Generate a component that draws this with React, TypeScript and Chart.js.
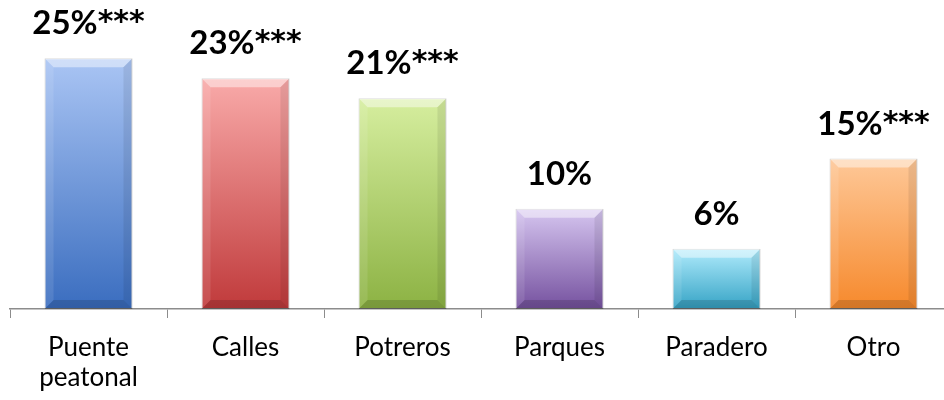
import { useEffect, useRef } from 'react';
import { Chart, registerables } from 'chart.js';

Chart.register(...registerables);

const categories: (string | string[])[] = [['Puente', 'peatonal'], 'Calles', 'Potreros', 'Parques', 'Paradero', 'Otro'];
const values = [25, 23, 21, 10, 6, 15];
const significance = ['***', '***', '***', '', '', '***'];
const topColors = ['#aac5f4', '#f9aaa9', '#d6ee9f', '#d6c6f0', '#b0ebfc', '#fec898'];
const bottomColors = ['#3a6dbf', '#c03a3b', '#8cb243', '#75519f', '#35a3c5', '#f6892c'];
const yMax = 30;

const FONT = 'Lato, "Open Sans", sans-serif';

const bevelPlugin = {
  id: 'bevel',
  afterDatasetsDraw(chart: any) {
    const ctx = chart.ctx;
    const meta = chart.getDatasetMeta(0);
    meta.data.forEach((bar: any) => {
      const w = bar.width;
      const l = bar.x - w / 2;
      const r = bar.x + w / 2;
      const t = bar.y;
      const b = bar.base;
      const bv = Math.min(9, (b - t) / 3);
      ctx.save();
      const poly = (pts: number[][], fill: string) => {
        ctx.beginPath();
        ctx.moveTo(pts[0][0], pts[0][1]);
        for (let k = 1; k < pts.length; k++) ctx.lineTo(pts[k][0], pts[k][1]);
        ctx.closePath();
        ctx.fillStyle = fill;
        ctx.fill();
      };
      poly([[l, t], [r, t], [r - bv, t + bv], [l + bv, t + bv]], 'rgba(255,255,255,0.45)');
      poly([[l, t], [l + bv, t + bv], [l + bv, b - bv], [l, b]], 'rgba(255,255,255,0.10)');
      poly([[r, t], [r - bv, t + bv], [r - bv, b - bv], [r, b]], 'rgba(0,0,0,0.08)');
      poly([[l, b], [l + bv, b - bv], [r - bv, b - bv], [r, b]], 'rgba(0,0,0,0.14)');
      ctx.restore();
    });
  },
};

const labelPlugin = {
  id: 'valueLabels',
  afterDatasetsDraw(chart: any) {
    const ctx = chart.ctx;
    const meta = chart.getDatasetMeta(0);
    ctx.save();
    ctx.fillStyle = '#000000';
    ctx.textAlign = 'left';
    ctx.textBaseline = 'alphabetic';
    const mainFont = 'bold 33px ' + FONT;
    const starFont = 'bold 30px "DejaVu Sans", sans-serif';
    meta.data.forEach((bar: any, i: number) => {
      const main = values[i] + '%';
      const stars = significance[i];
      ctx.font = mainFont;
      const w1 = ctx.measureText(main).width;
      ctx.font = starFont;
      const w2 = stars ? ctx.measureText(stars).width : 0;
      const x0 = bar.x - (w1 + w2) / 2;
      const yb = bar.y - 24;
      ctx.font = mainFont;
      ctx.fillText(main, x0, yb);
      if (stars) {
        ctx.font = starFont;
        ctx.fillText(stars, x0 + w1, yb - 3);
      }
    });
    ctx.restore();
  },
};

export default function App() {
  const canvasRef = useRef<HTMLCanvasElement | null>(null);

  useEffect(() => {
    if (!canvasRef.current) return;
    const chart = new Chart(canvasRef.current, {
      type: 'bar',
      data: {
        labels: categories,
        datasets: [
          {
            data: values,
            backgroundColor: (c: any) => {
              const chart = c.chart;
              const i = c.dataIndex;
              const ys = chart.scales?.y;
              if (!ys || i === undefined || !chart.chartArea) return bottomColors[i ?? 0];
              const top = ys.getPixelForValue(values[i]);
              const base = ys.getPixelForValue(0);
              const g = chart.ctx.createLinearGradient(0, top, 0, base);
              g.addColorStop(0, topColors[i]);
              g.addColorStop(1, bottomColors[i]);
              return g;
            },
            borderColor: 'rgba(0,0,0,0.22)',
            borderWidth: 1,
            borderSkipped: false,
            categoryPercentage: 1,
            barPercentage: 0.56,
          },
        ],
      },
      options: {
        animation: false,
        responsive: true,
        maintainAspectRatio: false,
        layout: { padding: { left: 10, right: 8, top: 8, bottom: 0 } },
        plugins: {
          legend: { display: false },
          tooltip: { enabled: false },
          title: { display: false },
        },
        scales: {
          x: {
            grid: {
              display: true,
              offset: true,
              drawOnChartArea: false,
              drawTicks: true,
              tickLength: 9,
              color: '#8c8c8c',
              lineWidth: 1,
            },
            border: { display: true, color: '#8c8c8c', width: 1.5 },
            ticks: {
              color: '#000000',
              font: { family: FONT, size: 26, lineHeight: 1.15 },
              padding: 15,
              maxRotation: 0,
              autoSkip: false,
            },
            afterFit: (scale: any) => {
              scale.height = 91;
            },
          },
          y: {
            display: false,
            min: 0,
            max: yMax,
          },
        },
      },
      plugins: [bevelPlugin, labelPlugin],
    });
    return () => chart.destroy();
  }, []);

  return (
    <div style={{ position: 'fixed', left: 0, top: 0, width: 960, height: 400, background: '#ffffff' }}>
      <canvas ref={canvasRef} />
    </div>
  );
}
